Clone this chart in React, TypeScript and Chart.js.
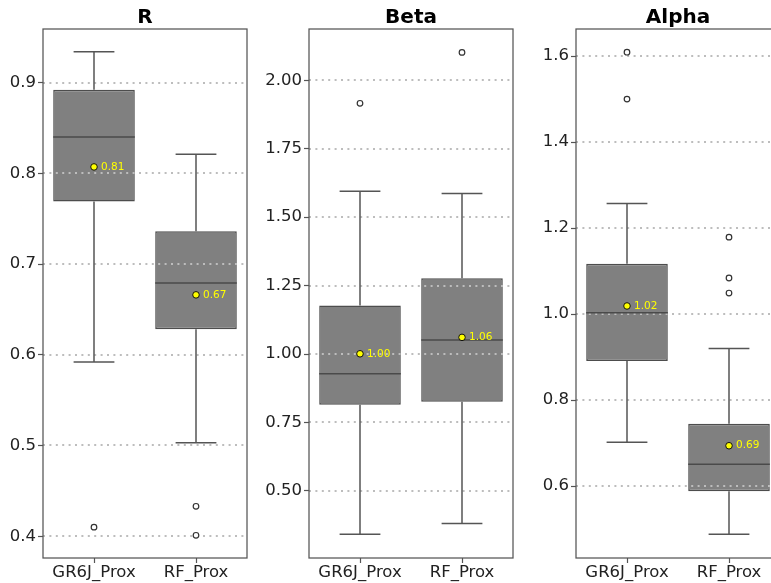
import React, { useEffect, useRef } from 'react';
import { Chart, registerables } from 'chart.js';

Chart.register(...registerables);

const categories = ['GR6J_Prox', 'RF_Prox'];

// R panel
const rTicks = [0.4, 0.5, 0.6, 0.7, 0.8, 0.9];
const rWhiskerLow = [0.592, 0.503];
const rQ1 = [0.769, 0.628];
const rMedian = [0.84, 0.679];
const rQ3 = [0.892, 0.736];
const rWhiskerHigh = [0.934, 0.821];
const rMean = [0.807, 0.666];
const rOutliers = [[0.41], [0.433, 0.401]];

// Beta panel
const betaTicks = [0.5, 0.75, 1.0, 1.25, 1.5, 1.75, 2.0];
const betaWhiskerLow = [0.342, 0.381];
const betaQ1 = [0.815, 0.826];
const betaMedian = [0.928, 1.051];
const betaQ3 = [1.177, 1.277];
const betaWhiskerHigh = [1.595, 1.587];
const betaMean = [1.001, 1.061];
const betaOutliers = [[1.916], [2.102]];

// Alpha panel
const alphaTicks = [0.6, 0.8, 1.0, 1.2, 1.4, 1.6];
const alphaWhiskerLow = [0.702, 0.488];
const alphaQ1 = [0.891, 0.588];
const alphaMedian = [1.003, 0.651];
const alphaQ3 = [1.117, 0.745];
const alphaWhiskerHigh = [1.257, 0.92];
const alphaMean = [1.019, 0.694];
const alphaOutliers = [[1.609, 1.5], [1.179, 1.084, 1.049]];

type Panel = {
  title: string;
  ticks: number[];
  decimals: number;
  min: number;
  max: number;
  wl: number[];
  q1: number[];
  med: number[];
  q3: number[];
  wh: number[];
  mean: number[];
  outliers: number[][];
  left: number;
  width: number;
  axisWidth: number;
  padRight: number;
};

const panels: Panel[] = [
  { title: 'R', ticks: rTicks, decimals: 1, min: 0.376, max: 0.959, wl: rWhiskerLow, q1: rQ1, med: rMedian, q3: rQ3, wh: rWhiskerHigh, mean: rMean, outliers: rOutliers, left: 0, width: 257, axisWidth: 43, padRight: 10 },
  { title: 'Beta', ticks: betaTicks, decimals: 2, min: 0.255, max: 2.1875, wl: betaWhiskerLow, q1: betaQ1, med: betaMedian, q3: betaQ3, wh: betaWhiskerHigh, mean: betaMean, outliers: betaOutliers, left: 257, width: 263, axisWidth: 52, padRight: 7 },
  { title: 'Alpha', ticks: alphaTicks, decimals: 1, min: 0.433, max: 1.663, wl: alphaWhiskerLow, q1: alphaQ1, med: alphaMedian, q3: alphaQ3, wh: alphaWhiskerHigh, mean: alphaMean, outliers: alphaOutliers, left: 520, width: 270, axisWidth: 56, padRight: 10 },
];

const HEIGHT = 583;
const FONT = '"DejaVu Sans", sans-serif';

function BoxPanel({ p }: { p: Panel }) {
  const ref = useRef<HTMLCanvasElement | null>(null);
  useEffect(() => {
    if (!ref.current) return;
    const boxPlugin = {
      id: 'boxExtras',
      afterDatasetDraw(chart: any, args: any) {
        if (args.index !== 0) return;
        const ctx = chart.ctx;
        const area = chart.chartArea;
        const y = chart.scales.y;
        const meta = chart.getDatasetMeta(0);
        ctx.save();
        ctx.beginPath();
        ctx.rect(area.left, area.top, area.right - area.left, area.bottom - area.top);
        ctx.clip();
        // dotted grid above boxes
        ctx.strokeStyle = '#bdbdbd';
        ctx.lineWidth = 2;
        ctx.setLineDash([2, 4.4]);
        for (const t of y.ticks) {
          const py = Math.round(y.getPixelForValue(t.value));
          ctx.beginPath();
          ctx.moveTo(area.left, py);
          ctx.lineTo(area.right, py);
          ctx.stroke();
        }
        ctx.setLineDash([]);
        // whiskers and medians
        ctx.strokeStyle = '#555555';
        ctx.lineWidth = 1.5;
        meta.data.forEach((bar: any, i: number) => {
          const cx = bar.x;
          const w = bar.width;
          const yq1 = y.getPixelForValue(p.q1[i]);
          const yq3 = y.getPixelForValue(p.q3[i]);
          const ywl = y.getPixelForValue(p.wl[i]);
          const ywh = y.getPixelForValue(p.wh[i]);
          const ym = y.getPixelForValue(p.med[i]);
          ctx.beginPath();
          ctx.moveTo(cx, yq3);
          ctx.lineTo(cx, ywh);
          ctx.moveTo(cx - w / 4, ywh);
          ctx.lineTo(cx + w / 4, ywh);
          ctx.moveTo(cx, yq1);
          ctx.lineTo(cx, ywl);
          ctx.moveTo(cx - w / 4, ywl);
          ctx.lineTo(cx + w / 4, ywl);
          ctx.stroke();
          ctx.beginPath();
          ctx.strokeStyle = '#4a4a4a';
          ctx.moveTo(cx - w / 2, ym);
          ctx.lineTo(cx + w / 2, ym);
          ctx.stroke();
          ctx.strokeStyle = '#555555';
        });
        ctx.restore();
      },
      afterDatasetsDraw(chart: any) {
        const ctx = chart.ctx;
        const area = chart.chartArea;
        const meanMeta = chart.getDatasetMeta(2);
        ctx.save();
        ctx.fillStyle = '#ffff00';
        ctx.font = '10.5px ' + FONT;
        ctx.textAlign = 'left';
        ctx.textBaseline = 'middle';
        meanMeta.data.forEach((pt: any, i: number) => {
          ctx.fillText(p.mean[i].toFixed(2), pt.x + 7, pt.y);
        });
        // frame
        ctx.strokeStyle = '#555555';
        ctx.lineWidth = 1.25;
        ctx.strokeRect(area.left, area.top, area.right - area.left, area.bottom - area.top);
        // title
        ctx.fillStyle = '#000000';
        ctx.font = 'bold 20px ' + FONT;
        ctx.textAlign = 'center';
        ctx.textBaseline = 'alphabetic';
        ctx.fillText(p.title, (area.left + area.right) / 2, 23);
        ctx.restore();
      },
    };

    const outlierData: { x: string; y: number }[] = [];
    p.outliers.forEach((list, i) => list.forEach((v) => outlierData.push({ x: categories[i], y: v })));

    const chart = new Chart(ref.current, {
      type: 'bar',
      data: {
        labels: categories,
        datasets: [
          {
            type: 'bar',
            data: categories.map((_, i) => [p.q1[i], p.q3[i]]),
            backgroundColor: '#808080',
            borderColor: '#4d4d4d',
            borderWidth: 1.5,
            borderSkipped: false,
            categoryPercentage: 1,
            barPercentage: 0.8,
            order: 3,
          } as any,
          {
            type: 'line',
            data: outlierData,
            showLine: false,
            pointRadius: 2.8,
            pointBackgroundColor: '#ffffff',
            pointBorderColor: '#333333',
            pointBorderWidth: 1.2,
            order: 1,
          } as any,
          {
            type: 'line',
            data: categories.map((c, i) => ({ x: c, y: p.mean[i] })),
            showLine: false,
            pointRadius: 3.3,
            pointBackgroundColor: '#ffff00',
            pointBorderColor: '#111111',
            pointBorderWidth: 1,
            order: 0,
          } as any,
        ],
      },
      options: {
        responsive: false,
        animation: false,
        events: [],
        layout: { padding: { top: 29, right: p.padRight, left: 0, bottom: 0 } },
        plugins: { legend: { display: false }, tooltip: { enabled: false }, title: { display: false } },
        scales: {
          x: {
            type: 'category',
            offset: true,
            grid: { offset: false, drawOnChartArea: false, drawTicks: true, tickLength: 5, tickColor: '#555555', tickWidth: 1.2 },
            border: { display: false },
            ticks: { color: '#222222', font: { family: FONT, size: 16.5 }, padding: 0, maxRotation: 0 },
            afterFit: (scale: any) => { scale.height = 25; },
          },
          y: {
            type: 'linear',
            min: p.min,
            max: p.max,
            grid: { drawOnChartArea: false, drawTicks: true, tickLength: 5, tickColor: '#555555', tickWidth: 1.2 },
            border: { display: false },
            ticks: {
              color: '#222222',
              font: { family: FONT, size: 16.5 },
              padding: 2,
              callback: (v: any) => Number(v).toFixed(p.decimals),
            },
            afterBuildTicks: (scale: any) => { scale.ticks = p.ticks.map((v) => ({ value: v })); },
            afterFit: (scale: any) => { scale.width = p.axisWidth; },
          },
        },
      } as any,
      plugins: [boxPlugin],
    });
    return () => chart.destroy();
  }, [p]);
  return (
    <canvas
      ref={ref}
      width={p.width}
      height={HEIGHT}
      style={{ position: 'absolute', left: p.left, top: 0, width: p.width, height: HEIGHT }}
    />
  );
}

export default function App() {
  return (
    <div style={{ position: 'absolute', left: 0, top: 0, width: 771, height: HEIGHT, overflow: 'hidden', background: '#ffffff' }}>
      {panels.map((p) => (
        <BoxPanel key={p.title} p={p} />
      ))}
    </div>
  );
}
